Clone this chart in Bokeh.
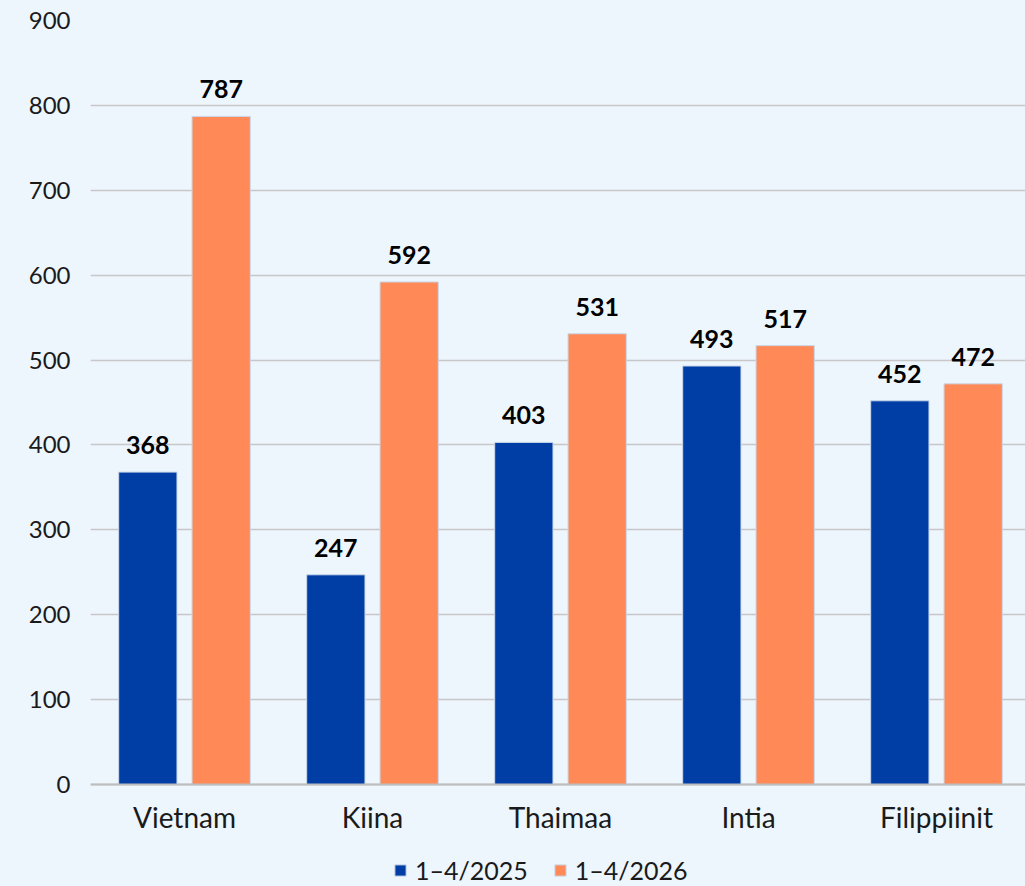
from bokeh.plotting import figure
from bokeh.models import ColumnDataSource, FixedTicker, Legend, LegendItem
from bokeh.embed import file_html
from bokeh.resources import INLINE
from bokeh.core.properties import value

categories = ["Vietnam", "Kiina", "Thaimaa", "Intia", "Filippiinit"]
series_names = ["1–4/2025", "1–4/2026"]
values_2025 = [368, 247, 403, 493, 452]
values_2026 = [787, 592, 531, 517, 472]
y_ticks = [0, 100, 200, 300, 400, 500, 600, 700, 800, 900]

BG = "#EDF5FD"
BLUE = "#003DA5"
ORANGE = "#FF8A57"
FONT = "Lato"

centers = [i + 0.5 for i in range(len(categories))]
offset = 0.195
bw = 0.31
FW = 935
FH = 866
px_per_unit = 764 / 900
y_low = -(FH - 764) / px_per_unit

p = figure(frame_width=FW, frame_height=FH, output_backend="svg", toolbar_location=None,
           x_range=(0, FW / 188), y_range=(y_low, 900),
           background_fill_color=BG, border_fill_color=BG, outline_line_color=None,
           min_border_left=90, min_border_right=0, min_border_top=20, min_border_bottom=0)

src1 = ColumnDataSource(dict(x=[c - offset for c in centers], top=values_2025,
                             lbl=[str(v) for v in values_2025]))
src2 = ColumnDataSource(dict(x=[c + offset for c in centers], top=values_2026,
                             lbl=[str(v) for v in values_2026]))

r1 = p.vbar(x="x", top="top", bottom=0, width=bw, source=src1, fill_color=BLUE, line_color="#C9D8EA", line_width=1)
r2 = p.vbar(x="x", top="top", bottom=0, width=bw, source=src2, fill_color=ORANGE, line_color="#C9D8EA", line_width=1)

for s in (src1, src2):
    p.text(x="x", y="top", text="lbl", source=s, text_align="center", text_baseline="alphabetic",
           y_offset=-27, text_font=value(FONT), text_font_style="bold", text_font_size="25px",
           text_color="#000000")

p.xgrid.grid_line_color = None
p.ygrid.grid_line_color = "#C8C8C8"
p.ygrid.grid_line_width = 1.5
p.yaxis.ticker = FixedTicker(ticks=y_ticks)
p.yaxis.axis_line_color = None
p.yaxis.major_tick_line_color = None
p.yaxis.minor_tick_line_color = None
p.yaxis.major_label_standoff = 14
p.yaxis.major_label_text_font = FONT
p.yaxis.major_label_text_font_size = "24px"
p.yaxis.major_label_text_color = "#1A1A1A"

p.xaxis.fixed_location = 0
p.xaxis.ticker = FixedTicker(ticks=centers)
p.xaxis.major_label_overrides = {c: n for c, n in zip(centers, categories)}
p.xaxis.axis_line_color = "#BDBDBD"
p.xaxis.axis_line_width = 2
p.xaxis.major_tick_line_color = None
p.xaxis.minor_tick_line_color = None
p.xaxis.major_tick_out = 0
p.xaxis.major_tick_in = 0
p.xaxis.major_label_standoff = 15
p.xaxis.major_label_text_font = FONT
p.xaxis.major_label_text_font_size = "28px"
p.xaxis.major_label_text_color = "#1A1A1A"

legend = Legend(items=[LegendItem(label=series_names[0], renderers=[r1]),
                       LegendItem(label=series_names[1], renderers=[r2])],
                orientation="horizontal", location=(303, 1),
                background_fill_alpha=0, border_line_color=None,
                label_text_font=FONT, label_text_font_size="25px", label_text_color="#1A1A1A",
                glyph_width=14, glyph_height=14, spacing=25, label_standoff=8,
                margin=0, padding=0)
p.add_layout(legend, "center")

html = file_html(p, INLINE)
html = html.replace("<head>", "<head><style>html,body{background:%s;overflow:hidden;}</style>" % BG, 1)
open("out.html", "w").write(html)
